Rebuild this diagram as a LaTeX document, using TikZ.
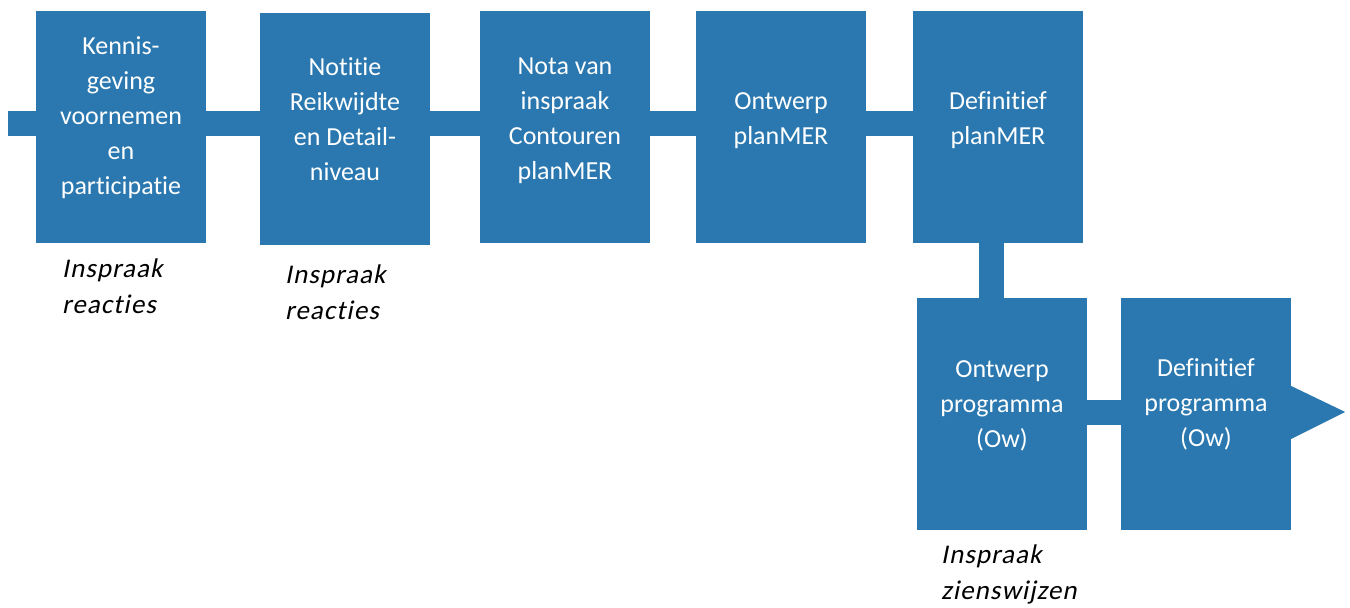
\documentclass[tikz,border=0pt]{standalone}
\usepackage{fontspec}
\setmainfont[Ligatures=NoCommon]{Carlito}
\newfontfamily\slantfont[FakeSlant=0.2,Ligatures=NoCommon,LetterSpace=4]{Carlito}
\definecolor{boxblue}{RGB}{42,120,175}
\begin{document}
\begin{tikzpicture}[x=1pt,y=-1pt,
  stepbox/.style={fill=boxblue,draw=none,minimum width=170pt,minimum height=232pt,inner sep=0pt},
  boxtext/.style={text=white,align=center,inner sep=0pt,font=\fontsize{26}{35}\selectfont},
  note/.style={text=black,align=left,inner sep=0pt,anchor=north west,font=\fontsize{27}{36}\selectfont\slantfont},
  bar/.style={draw=boxblue,line width=25pt}]
\useasboundingbox (0,0) rectangle (1350,608);
% boxes
\node[stepbox] (b1) at (121,127) {};
\node[stepbox] (b2) at (345,129) {};
\node[stepbox] (b3) at (565,127) {};
\node[stepbox] (b4) at (781,127) {};
\node[stepbox] (b5) at (998,127) {};
\node[stepbox] (b6) at (1002,414) {};
\node[stepbox] (b7) at (1206,414) {};
% connectors
\coordinate (start) at (8,123.5);
\draw[bar] (start) -- (start -| b1.west);
\draw[bar] (b1.east |- start) -- (b2.west |- start);
\draw[bar] (b2.east |- start) -- (b3.west |- start);
\draw[bar] (b3.east |- start) -- (b4.west |- start);
\draw[bar] (b4.east |- start) -- (b5.west |- start);
\draw[bar] ([xshift=-6.5pt]b5.south) -- ([xshift=-10.5pt]b6.north);
\draw[bar] ([yshift=2pt]b6.east) -- ([yshift=2pt]b7.west);
\fill[boxblue] ([yshift=-25pt]b7.east) -- ([xshift=54pt,yshift=2pt]b7.east) -- ([yshift=28pt]b7.east) -- cycle;
% texts
\node[boxtext] (t1) at ([yshift=9pt]b1.center) {Kennis-\\geving\\voornemen\\en\\participatie};
\node[boxtext] (t2) at ([yshift=10pt]b2.center) {Notitie\\Reikwijdte\\en Detail-\\niveau};
\node[boxtext] (t3) at ([yshift=6pt]b3.center) {Nota van\\inspraak\\Contouren\\planMER};
\node[boxtext] (t4) at ([yshift=6pt]b4.center) {Ontwerp\\planMER};
\node[boxtext] (t5) at ([yshift=7pt]b5.center) {Definitief\\planMER};
\node[boxtext] (t6) at ([yshift=8pt]b6.center) {Ontwerp\\programma\\(Ow)};
\node[boxtext] (t7) at ([yshift=10pt]b7.center) {Definitief\\programma\\(Ow)};
% notes
\node[note] (n1) at (62,259) {Inspraak\\reacties};
\node[note] (n2) at (285,265) {Inspraak\\reacties};
\node[note] (n3) at (941,545) {Inspraak\\zienswijzen};
\end{tikzpicture}
\end{document}
